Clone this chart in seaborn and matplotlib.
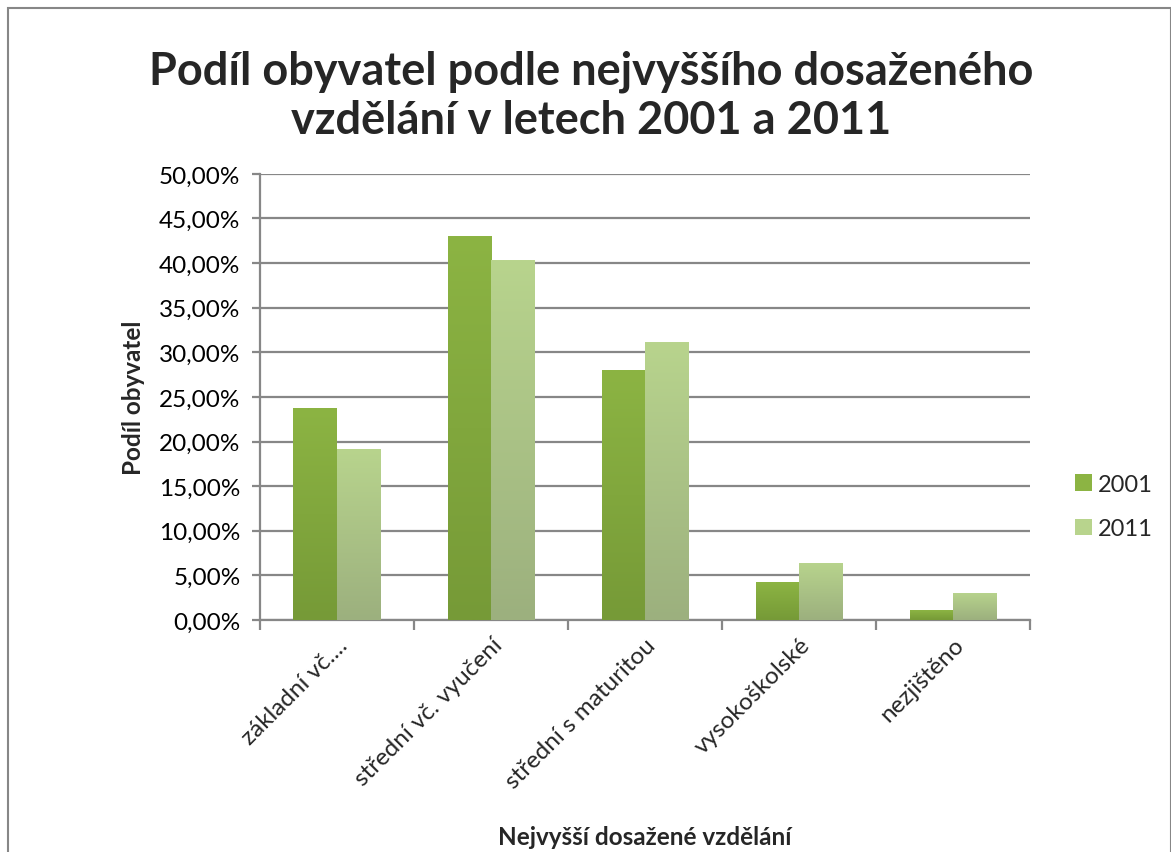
import numpy as np
import pandas as pd
import matplotlib
matplotlib.use("Agg")
import matplotlib.pyplot as plt
from matplotlib.patches import Rectangle
from matplotlib.colors import LinearSegmentedColormap
from matplotlib.ticker import FuncFormatter, FixedLocator
import seaborn as sns

# --- data ---
categories = ["základní vč....", "střední vč. vyučení", "střední s maturitou",
              "vysokoškolské", "nezjištěno"]
years = ["2001", "2011"]
share_2001 = [23.75, 43.0, 28.0, 4.25, 1.1]
share_2011 = [19.15, 40.3, 31.15, 6.4, 3.05]

title = "Podíl obyvatel podle nejvyššího dosaženého\nvzdělání v letech 2001 a 2011"
x_label = "Nejvyšší dosažené vzdělání"
y_label = "Podíl obyvatel"

# top / bottom colour of each series gradient
grad_colors = {"2001": ("#8cb443", "#769a37"),
               "2011": ("#b8d48d", "#9cb07e")}

df = pd.DataFrame({
    "kategorie": categories * 2,
    "rok": [years[0]] * len(categories) + [years[1]] * len(categories),
    "podil": share_2001 + share_2011,
})

sns.set_theme(style="white")
plt.rcParams["font.family"] = ["Lato", "DejaVu Sans"]

fig = plt.figure(figsize=(11.71, 8.53), dpi=100)
ax = fig.add_axes([0.222, 0.272, 0.658, 0.523])

palette = {y: grad_colors[y][0] for y in years}
sns.barplot(data=df, x="kategorie", y="podil", hue="rok", order=categories,
            hue_order=years, palette=palette, width=0.565, gap=0,
            saturation=1, legend=False, ax=ax, zorder=3)

# vertical gradient on each bar, clipped to the bar
grad = np.linspace(1, 0, 256).reshape(-1, 1)
for container, yr in zip(ax.containers, years):
    cmap = LinearSegmentedColormap.from_list(yr, [grad_colors[yr][1], grad_colors[yr][0]])
    for bar in container:
        x0, y0 = bar.get_x(), bar.get_y()
        w, h = bar.get_width(), bar.get_height()
        bar.set_facecolor("none")
        bar.set_edgecolor("none")
        im = ax.imshow(grad, extent=[x0, x0 + w, y0, y0 + h], aspect="auto",
                       cmap=cmap, vmin=0, vmax=1, zorder=3)
        im.set_clip_path(bar)
ax.set_aspect("auto")
ax.set_xlim(-0.5, len(categories) - 0.5)
ax.set_ylim(0, 50)

# grid + spines
ax.set_yticks(np.arange(0, 51, 5))
ax.yaxis.set_major_formatter(FuncFormatter(lambda v, p: f"{v:.2f}%".replace(".", ",")))
ax.grid(axis="y", color="#878787", linewidth=1.6, zorder=0)
ax.set_axisbelow(True)
for s in ["top", "right"]:
    ax.spines[s].set_visible(False)
for s in ["left", "bottom"]:
    ax.spines[s].set_color("#878787")
    ax.spines[s].set_linewidth(1.6)

ax.tick_params(axis="y", which="major", left=True, length=6, width=1.6,
               color="#878787", labelsize=17.5, pad=8, labelcolor="black")
ax.xaxis.set_minor_locator(FixedLocator(np.arange(-0.5, len(categories), 1)))
ax.tick_params(axis="x", which="major", bottom=False, labelsize=17.5, pad=4)
ax.tick_params(axis="x", which="minor", bottom=True, length=7, width=1.6,
               color="#878787")
ax.set_xticks(range(len(categories)))
ax.set_xticklabels(categories, rotation=45, ha="right", rotation_mode="anchor")

ax.set_xlabel(x_label, fontsize=17.5, fontweight="bold", labelpad=24)
ax.set_ylabel(y_label, fontsize=17.5, fontweight="bold", labelpad=10)

fig.text(0.505, 0.887, title, ha="center", va="center", fontsize=32.5,
         fontweight="bold", linespacing=1.2)

# legend on the right
handles = [Rectangle((0, 0), 1, 1, facecolor=grad_colors[y][0], edgecolor="none")
           for y in years]
fig.legend(handles, years, loc="center left", bbox_to_anchor=(0.9, 0.405),
           frameon=False, fontsize=17, handlelength=0.7, handleheight=0.7,
           handletextpad=0.25, labelspacing=1.0)

# outer chart border
fig.patches.append(Rectangle((0.007, -0.01), 0.993, 1.0, transform=fig.transFigure,
                             fill=False, edgecolor="#878787", linewidth=1.5))

fig.savefig("out.png", dpi=100, facecolor="white")
